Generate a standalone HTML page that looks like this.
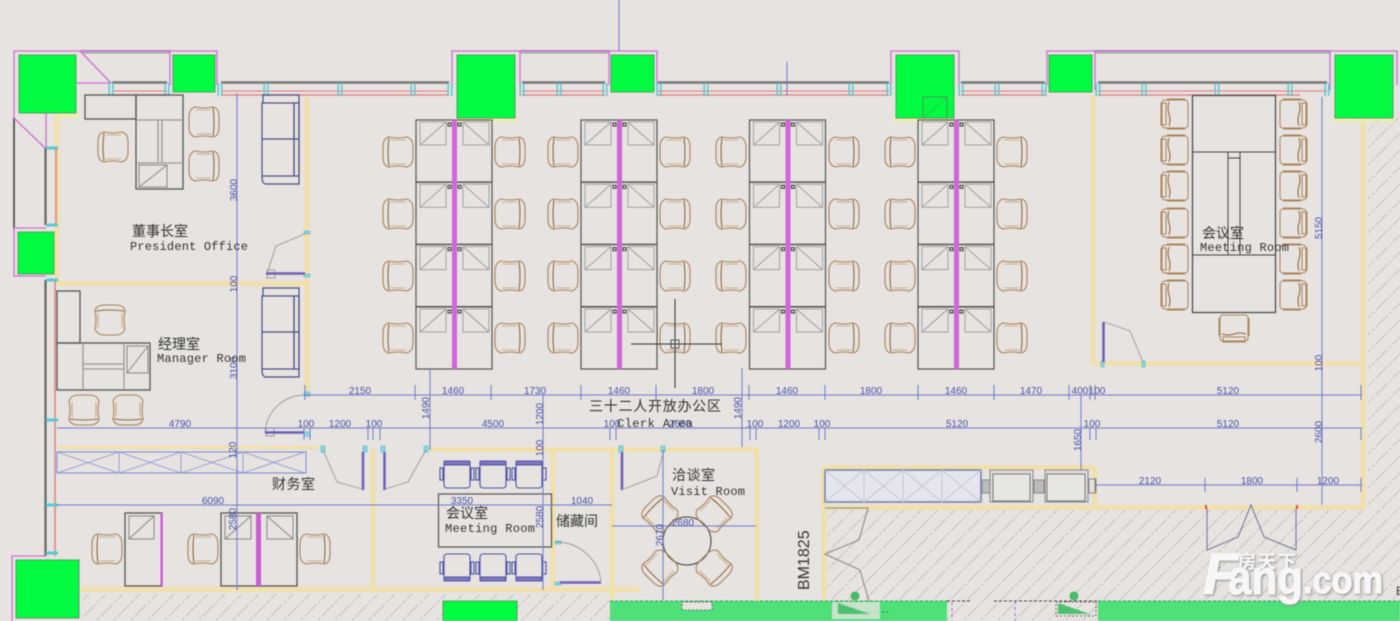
<!DOCTYPE html>
<html><head><meta charset="utf-8"><style>
html,body{margin:0;padding:0;background:#e6e3e0;width:1400px;height:621px;overflow:hidden}
svg{display:block;filter:blur(.4px)}
.d{font:10px "Liberation Sans",sans-serif;fill:#4b52a6;text-anchor:middle}
.l{font:12px "Liberation Mono",monospace;fill:#333}
.c{font:13px "Liberation Sans","Noto Sans CJK SC",sans-serif;fill:#333}
.w{fill:none;stroke:#f2e0a9;stroke-width:4.5}
.t{fill:none;stroke:#f2e0a9;stroke-width:3}
.dm{fill:none;stroke:#7079cc;stroke-width:1}
.k{fill:none;stroke:#555;stroke-width:1.3}
.g{fill:#00fb40;stroke:#55a060;stroke-width:1}
.m{fill:none;stroke:#cf6fd2;stroke-width:1.3}
</style></head><body>
<svg width="1400" height="621" viewBox="0 0 1400 621" xmlns="http://www.w3.org/2000/svg">
<defs>
<pattern id="h" width="17" height="17" patternUnits="userSpaceOnUse" patternTransform="translate(3 0)">
<path d="M0 17L17 0" stroke="#bdb9b3" stroke-width=".8" stroke-dasharray="11 2 3 2"/>
</pattern>
<g id="ch"><g fill="none" stroke="#a98359" stroke-width="1.1">
<path d="M-9-15Q-15-14-15-5V5Q-15 14-9 15Q0 13 9 15Q15 13 15 5V-5Q15-13 9-15Q0-13-9-15Z"/>
<path d="M-9-14Q-11 0-9 14" stroke="#8e6a42"/>
<path d="M-7-12H8M-7 12H8" stroke="#cdae8c"/>
</g></g>
<g id="mc"><g fill="none" stroke="#a98359" stroke-width="1">
<rect x="-13" y="-14" width="26" height="28" rx="3"/><rect x="-14" y="-11" width="5" height="22"/>
<path d="M-6-12Q-8-6-6 0T-6 12" stroke="#8e5f30"/><path d="M-8-15H10M-8 15H10"/>
</g></g>
<g id="bc"><g fill="none" stroke="#4c4fa5" stroke-width="1.1">
<rect x="-13" y="-12" width="26" height="25" rx="3"/><rect x="-13" y="-14" width="26" height="4" fill="#7f78c0" rx="1"/>
<rect x="-17" y="-7" width="3" height="12"/><rect x="14" y="-7" width="3" height="12"/>
</g></g>
<g id="mon"><rect width="26" height="23" fill="none" stroke="#9c9c9c" stroke-width=".9"/><path d="M0 23L26 0" stroke="#999" stroke-width=".9" fill="none"/></g>
<g id="mon2"><rect width="26" height="23" fill="none" stroke="#9c9c9c" stroke-width=".9"/><path d="M0 0L26 23" stroke="#999" stroke-width=".9" fill="none"/></g>
<g id="row"><rect width="76" height="62" fill="none" stroke="#555" stroke-width="1.2"/>
<use href="#mon" x="4" y="2"/><use href="#mon2" x="47" y="2"/>
<rect x="32" y="3" width="3" height="3" fill="none" stroke="#333"/><rect x="42" y="3" width="3" height="3" fill="none" stroke="#333"/></g>
<g id="block"><use href="#row"/><use href="#row" y="62.300"/><use href="#row" y="124.600"/><use href="#row" y="187"/>
<rect x="36" width="5" height="249" fill="#d265d8"/></g>
<g id="sofa"><g fill="none" stroke="#4b4b86" stroke-width="1.2">
<rect x="0" y="8" width="32" height="73"/><rect x="32" y="8" width="5" height="73"/><path d="M0 44H37"/>
<path d="M1 8V0H37V89H4Q0 89 0 81"/></g></g>
<g id="gl"><path d="M-1.800-6V7M1.800-6V7" stroke="#5cc8d0" stroke-width="1.500"/></g>
</defs>

<rect width="1400" height="621" fill="#e6e3e0"/>

<!-- hatch -->
<rect x="82" y="594" width="528" height="27" fill="url(#h)"/>
<rect x="825" y="510" width="575" height="111" fill="url(#h)"/>
<rect x="1368" y="118" width="32" height="390" fill="url(#h)"/>

<!-- green bottom -->
<rect x="610" y="601" width="337" height="20" fill="#4fe07a"/>
<rect x="1098" y="601" width="302" height="20" fill="#4fe07a"/>
<rect x="682" y="602" width="30" height="8" fill="#e6e3e0" stroke="#444" stroke-dasharray="2 2" stroke-width=".8"/>
<path d="M947 601H972M994 601H1098" stroke="#444" stroke-dasharray="3 2" stroke-width="1"/>
<path d="M610 601H947M1098 601H1400" stroke="#2e7a48" stroke-dasharray="3 2" stroke-width=".8"/>
<path d="M837 601V612H890" fill="none" stroke="#444" stroke-dasharray="2 2" stroke-width=".8"/>
<rect x="832" y="602" width="48" height="17" fill="#e6e3e0" opacity=".8"/>
<path d="M838 603L870 614H838Z" fill="#4fc070"/><path d="M1058 603L1090 614H1058Z" fill="#4fc070"/>
<rect x="1056" y="602" width="40" height="14" fill="none" stroke="#444" stroke-dasharray="2 2" stroke-width=".8"/>
<circle cx="855" cy="596" r="4.500" fill="#49b96a"/><circle cx="1074" cy="596" r="4.500" fill="#49b96a"/>
<path d="M952 602V621M1015 601V621" stroke="#b060c0" stroke-dasharray="3 3"/>

<!-- walls -->
<g class="w">
<path d="M307 97V395"/><path d="M57 115V283"/><path d="M57 283.500H310"/>
<path d="M373 449V590"/><path d="M80 589.500H640"/>
<path d="M430 449.500H757"/>
<path d="M553 450V590"/><path d="M612 450V600"/><path d="M757 448V601"/>
<path d="M1093 95V365"/><path d="M1093 363.500H1362"/><path d="M1363 118V508"/>
<path d="M823 507.500H1365"/><path d="M824 510V600"/><path d="M823 468V506"/><path d="M1095 468V505"/><path d="M823 467.500H1095"/>
</g>
<path class="t" d="M57 447.500H320"/>
<path d="M58 113H80V118H58ZM454 118H518V122H454ZM893 118H957V122H893ZM1332 118H1395V122H1332ZM14 618H80" fill="#eef0a0" opacity=".7"/>

<!-- window bands -->
<g fill="none">
<path d="M112 82.500H167M221 82.500H449M522 82.500H605M658 82.500H889M961 82.500H1045M1098 82.500H1327" stroke="#777" stroke-width="2.500"/>
<path d="M113 91H167M221 91H449M522 91H605M658 91H889M961 91H1045M1098 91H1327" stroke="#e27878"/>
<path d="M113 95H167M221 95H449M522 95H605M658 95H889M961 95H1045M1098 95H1300" stroke="#e27878" stroke-width="1.300"/>
<path d="M81 51H170M520 51H609M1095 51H1330" stroke="#444" stroke-width="1.600"/>
<path d="M81 53H170M520 53H609M1095 53H1330" stroke="#999"/>
<path d="M14 118V228" stroke="#444" stroke-width="1.600"/>
<path d="M45.500 148V225M45.500 280V556" stroke="#666" stroke-width="2.200"/>
<path d="M56 148V225M55 280V556" stroke="#e27878" stroke-width="1.400"/>
</g>
<g class="m">
<path d="M14 118V51H217V85"/><path d="M14 228V276H46"/><path d="M80 51L111 83M77 83H111M14 118L45 148M46 113V148M46 228H14"/>
<path d="M170 51V85"/>
<path d="M452 85V51H657V85M520 51V85M609 51V85"/>
<path d="M891 85V51H959V85"/>
<path d="M1047 85V51H1397V85M1095 51V90M1330 51V90"/>
<path d="M12 621V556H46"/>
</g>
<!-- window glass ticks -->
<g>
<use href="#gl" x="111" y="89"/><use href="#gl" x="167" y="89"/><use href="#gl" x="220" y="89"/><use href="#gl" x="266" y="89"/><use href="#gl" x="340" y="89"/><use href="#gl" x="413" y="89"/><use href="#gl" x="450" y="89"/>
<use href="#gl" x="522" y="89"/><use href="#gl" x="559" y="89"/><use href="#gl" x="605" y="89"/>
<use href="#gl" x="659" y="89"/><use href="#gl" x="706" y="89"/><use href="#gl" x="779" y="89"/><use href="#gl" x="851" y="89"/><use href="#gl" x="889" y="89"/>
<use href="#gl" x="961" y="89"/><use href="#gl" x="997" y="89"/><use href="#gl" x="1044" y="89"/>
<use href="#gl" x="1098" y="89"/><use href="#gl" x="1144" y="89"/><use href="#gl" x="1217" y="89"/><use href="#gl" x="1290" y="89"/><use href="#gl" x="1327" y="89"/>
</g>
<path d="M46 148H58M46 225H58M46 280H58M46 420H58M46 505H58M46 553H58" stroke="#5cc8d0" stroke-width="3"/>
<g fill="#8ad8e0" stroke="#50b8c8" stroke-width=".6">
<rect x="304" y="231" width="6" height="3"/><rect x="304" y="274" width="6" height="3"/>
<rect x="304" y="392" width="6" height="4"/><rect x="304" y="432" width="6" height="4"/>
<rect x="321" y="446" width="4" height="6"/><rect x="363" y="446" width="4" height="6"/>
<rect x="381" y="446" width="4" height="6"/><rect x="424" y="446" width="4" height="6"/>
<rect x="619" y="446" width="4" height="6"/><rect x="661" y="446" width="4" height="6"/>
<rect x="555" y="541" width="6" height="3"/><rect x="555" y="582" width="6" height="3"/>
<rect x="1101" y="361" width="3" height="6"/><rect x="1142" y="361" width="3" height="6"/>
</g>

<!-- green columns -->
<rect class="g" x="19" y="55" width="57" height="58"/>
<rect class="g" x="173" y="55" width="42" height="37"/>
<rect class="g" x="457" y="55" width="58" height="63"/>
<rect class="g" x="611" y="55" width="43" height="37"/>
<rect class="g" x="896" y="55" width="58" height="63"/>
<rect class="g" x="1049" y="55" width="43" height="37"/>
<rect class="g" x="1335" y="55" width="58" height="63"/>
<rect class="g" x="18" y="232" width="36" height="42"/>
<rect class="g" x="16" y="560" width="63" height="58"/>
<rect class="g" x="443" y="601" width="74" height="20"/>
<g><rect x="923" y="97" width="24" height="21" fill="none" stroke="#4a9a58"/><path d="M923 118L947 97" stroke="#4a9a58" stroke-dasharray="2 2"/></g>

<!-- open office desks -->
<use href="#block" x="416" y="120"/><use href="#block" x="581" y="120"/><use href="#block" x="749.500" y="120"/><use href="#block" x="918" y="120"/>

<!-- chairs: open office -->
<use href="#ch" x="398" y="152"/><use href="#ch" x="398" y="214"/><use href="#ch" x="398" y="276"/><use href="#ch" x="398" y="338"/>
<use href="#ch" transform="translate(510 152) scale(-1 1)"/><use href="#ch" transform="translate(510 214) scale(-1 1)"/><use href="#ch" transform="translate(510 276) scale(-1 1)"/><use href="#ch" transform="translate(510 338) scale(-1 1)"/>
<use href="#ch" x="563" y="152"/><use href="#ch" x="563" y="214"/><use href="#ch" x="563" y="276"/><use href="#ch" x="563" y="338"/>
<use href="#ch" transform="translate(675 152) scale(-1 1)"/><use href="#ch" transform="translate(675 214) scale(-1 1)"/><use href="#ch" transform="translate(675 276) scale(-1 1)"/><use href="#ch" transform="translate(675 338) scale(-1 1)"/>
<use href="#ch" x="731" y="152"/><use href="#ch" x="731" y="214"/><use href="#ch" x="731" y="276"/><use href="#ch" x="731" y="338"/>
<use href="#ch" transform="translate(844 152) scale(-1 1)"/><use href="#ch" transform="translate(844 214) scale(-1 1)"/><use href="#ch" transform="translate(844 276) scale(-1 1)"/><use href="#ch" transform="translate(844 338) scale(-1 1)"/>
<use href="#ch" x="900" y="152"/><use href="#ch" x="900" y="214"/><use href="#ch" x="900" y="276"/><use href="#ch" x="900" y="338"/>
<use href="#ch" transform="translate(1012 152) scale(-1 1)"/><use href="#ch" transform="translate(1012 214) scale(-1 1)"/><use href="#ch" transform="translate(1012 276) scale(-1 1)"/><use href="#ch" transform="translate(1012 338) scale(-1 1)"/>

<!-- president room -->
<g class="k">
<rect x="85" y="95" width="51" height="24"/><rect x="136" y="95" width="47" height="94"/>
<path d="M136 120H183M136 163H183M158 121V162M162 121V162" stroke="#999"/>
</g>
<rect x="139" y="165" width="28" height="22" fill="none" stroke="#888"/><path d="M139 187L167 165" stroke="#888"/>
<use href="#ch" x="113" y="147"/>
<use href="#ch" transform="translate(204 122) scale(-1 1)"/><use href="#ch" transform="translate(204 166) scale(-1 1)"/>
<use href="#sofa" x="262" y="95"/><use href="#sofa" x="262" y="288"/>
<!-- manager room -->
<g class="k">
<rect x="57" y="343" width="93" height="47"/><rect x="57" y="291" width="23" height="52"/>
<path d="M83 344V389M124 344V389" stroke="#999"/><path d="M83 364H124M83 369H124" stroke="#999"/>
</g>
<rect x="127" y="346" width="21" height="27" fill="none" stroke="#888"/><path d="M127 373L148 346" stroke="#888"/>
<use href="#ch" transform="translate(110 320) rotate(90)"/>
<use href="#ch" transform="translate(84 410) rotate(-90)"/><use href="#ch" transform="translate(128 410) rotate(-90)"/>
<!-- cabinet -->
<rect x="57" y="452" width="249" height="21" fill="none" stroke="#7d88cf"/>
<path d="M57 452L119 473M57 473L119 452M119 452L181 473M119 473L181 452M181 452L243 473M181 473L243 452M243 452L305 473M243 473L305 452M119 452V473M181 452V473M243 452V473" stroke="#8d96d3" stroke-width=".9" fill="none"/>
<!-- finance desks -->
<g class="k"><rect x="125" y="513" width="37" height="73"/><rect x="221" y="513" width="76" height="73"/></g>
<rect x="160.500" y="513" width="2" height="73" fill="#d050d8"/><rect x="256" y="513" width="5" height="73" fill="#c85fd0"/>
<rect x="129" y="516" width="25" height="23" fill="none" stroke="#888"/><path d="M129 539L154 516" stroke="#888"/>
<rect x="225" y="516" width="26" height="23" fill="none" stroke="#888"/><path d="M225 539L251 516" stroke="#888"/>
<rect x="267" y="516" width="26" height="23" fill="none" stroke="#888"/><path d="M267 516L293 539" stroke="#888"/>
<use href="#ch" x="107" y="549"/><use href="#ch" x="203" y="549"/><use href="#ch" transform="translate(315 549) scale(-1 1)"/>

<!-- meeting room small -->
<rect x="438.500" y="494" width="113" height="53" fill="none" stroke="#555" stroke-width="1.200"/>
<use href="#bc" x="457" y="475"/><use href="#bc" x="493" y="475"/><use href="#bc" x="529" y="475"/>
<use href="#bc" transform="translate(457 567) scale(1 -1)"/><use href="#bc" transform="translate(493 567) scale(1 -1)"/><use href="#bc" transform="translate(529 567) scale(1 -1)"/>

<!-- visit -->
<circle cx="687" cy="541" r="24" fill="none" stroke="#555" stroke-width="1.200"/>
<use href="#ch" transform="translate(660 514) rotate(45)"/><use href="#ch" transform="translate(714 514) rotate(135)"/>
<use href="#ch" transform="translate(660 568) rotate(-45)"/><use href="#ch" transform="translate(714 568) rotate(-135)"/>

<!-- meeting room big -->
<rect x="1192.500" y="95.500" width="83" height="217" fill="none" stroke="#444" stroke-width="1.200"/>
<path d="M1193 152H1276M1193 255H1276M1228 152V255M1240 152V255M1228 158H1240" fill="none" stroke="#444"/>
<use href="#mc" x="1175" y="114"/><use href="#mc" x="1175" y="150"/><use href="#mc" x="1175" y="186"/><use href="#mc" x="1175" y="223"/><use href="#mc" x="1175" y="259"/><use href="#mc" x="1175" y="295"/>
<use href="#mc" transform="translate(1293 114) scale(-1 1)"/><use href="#mc" transform="translate(1293 150) scale(-1 1)"/><use href="#mc" transform="translate(1293 186) scale(-1 1)"/><use href="#mc" transform="translate(1293 223) scale(-1 1)"/><use href="#mc" transform="translate(1293 259) scale(-1 1)"/><use href="#mc" transform="translate(1293 295) scale(-1 1)"/>
<use href="#mc" transform="translate(1234 328) rotate(-90)"/>

<!-- kitchen -->
<rect x="825" y="470" width="156" height="32" fill="#e4e5ee" stroke="#7284ad" stroke-width="1.600"/>
<path d="M825 470L864 502M825 502L864 470M864 470L903 502M864 502L903 470M903 470L942 502M903 502L942 470M942 470L981 502M942 502L981 470M864 470V502M903 470V502M942 470V502" stroke="#c7c7cc" fill="none"/>
<rect x="990" y="470" width="43" height="32" fill="#dcdcdc" stroke="#888"/><rect x="993" y="474" width="37" height="27" fill="#e7e6e3" stroke="#777"/>
<rect x="1045" y="470" width="43" height="32" fill="#dcdcdc" stroke="#888"/><rect x="1047" y="474" width="38" height="27" fill="#e7e6e3" stroke="#777"/>
<rect x="982" y="480" width="8" height="13" fill="#bbb" stroke="#888"/><rect x="1034" y="480" width="10" height="13" fill="#bbb" stroke="#888"/><rect x="1089" y="479" width="7" height="14" fill="none" stroke="#888"/>

<!-- doors -->
<g fill="none" stroke="#9a9a9a" stroke-width=".9">
<path d="M307 233L276 246L267 273"/>
<path d="M304 395A40 40 0 0 0 265 432"/>
<path d="M323 450L337 482L362 489"/><path d="M426 450L408 482L385 489"/>
<path d="M664 450L657 476L624 489"/>
<path d="M556 542A45 45 0 0 1 601 581"/>
<path d="M1104 322L1130 331L1143 362"/>
<rect x="267" y="270" width="8" height="8"/><rect x="266" y="428" width="8" height="8"/>
</g>
<path d="M266 273.500H305M265 432.500H304" stroke="#6e5fb8" stroke-width="2.500"/>
<path d="M363 452V490M384.500 452V490M622 452V490" stroke="#6e5fb8" stroke-width="2.500"/>
<path d="M560 582.500H601" stroke="#6e5fb8" stroke-width="2.500"/>
<path d="M1103.500 322V362" stroke="#6e5fb8" stroke-width="2.500"/>
<!-- exterior doors -->
<g fill="none" stroke="#8b8b8b" stroke-width="1.100">
<path d="M825 508H868L859 540L825 554L860 570L869 601"/>
<path d="M1207 508V550L1238 537L1251 505L1264 537L1296 550V508" stroke="#7a7a98"/>
</g>
<path d="M1206 505V509M1297 505V509" stroke="#e05050" stroke-width="2"/>

<!-- dimension lines -->
<g class="dm">
<path d="M619 0V51M787 62V95"/>
<path d="M237 93V590"/><path d="M430 368V450"/><path d="M543 395V590"/><path d="M742 368V447"/><path d="M1081 395V470"/><path d="M1322 97V505"/><path d="M663 450V600"/>
<path d="M305 395H1362"/><path d="M57 428H1362"/><path d="M57 505H612"/><path d="M612 526H756"/><path d="M1095 485H1362"/>
<path d="M305 385V400M415 385V400M491 385V400M581 385V400M656 385V400M749 385V400M825 385V400M918 385V400M994 385V400M1069 385V400M1090 385V400M1095 385V400M1361 385V400"/>
<path d="M304 428V440M310 428V440M368 428V440M373 428V440M380 428V440M610 428V440M616 428V440M750 428V440M756 428V440M819 428V440M825 428V440M1090 428V440M1096 428V440M1361 428V440"/>
<path d="M1205 478V492M1297 478V492M1361 478V492M1095 478V492"/>
</g>
<g class="d">
<text x="360" y="394">2150</text><text x="453" y="394">1460</text><text x="535" y="394">1730</text><text x="619" y="394">1460</text><text x="703" y="394">1800</text><text x="787" y="394">1460</text><text x="871" y="394">1800</text><text x="956" y="394">1460</text><text x="1031" y="394">1470</text><text x="1080" y="394">400</text><text x="1097" y="394">100</text><text x="1228" y="394">5120</text>
<text x="180" y="427">4790</text><text x="306" y="427">100</text><text x="340" y="427">1200</text><text x="374" y="427">100</text><text x="493" y="427">4500</text><text x="612" y="427">100</text><text x="680" y="427">2680</text><text x="755" y="427">100</text><text x="789" y="427">1200</text><text x="822" y="427">100</text><text x="957" y="427">5120</text><text x="1092" y="427">100</text><text x="1228" y="427">5120</text>
<text x="213" y="504">6090</text><text x="462" y="504">3350</text><text x="582" y="504">1040</text><text x="683" y="526">2680</text>
<text x="1150" y="484">2120</text><text x="1252" y="484">1800</text><text x="1328" y="484">1200</text>
<text transform="translate(237 190) rotate(-90)">3600</text>
<text transform="translate(237 284) rotate(-90)">100</text>
<text transform="translate(237 368) rotate(-90)">3100</text>
<text transform="translate(236 450) rotate(-90)">120</text>
<text transform="translate(236 519) rotate(-90)">2580</text>
<text transform="translate(429 408) rotate(-90)">1490</text>
<text transform="translate(543 414) rotate(-90)">1200</text>
<text transform="translate(543 448) rotate(-90)">100</text>
<text transform="translate(543 517) rotate(-90)">2580</text>
<text transform="translate(741 408) rotate(-90)">1490</text>
<text transform="translate(1081 440) rotate(-90)">1650</text>
<text transform="translate(1322 228) rotate(-90)">5150</text>
<text transform="translate(1322 363) rotate(-90)">100</text>
<text transform="translate(1322 432) rotate(-90)">2600</text>
<text transform="translate(663 535) rotate(-90)">2670</text>
</g>

<!-- labels -->
<g class="c">
<text x="132" y="236" textLength="56" lengthAdjust="spacing" font-size="14">董事长室</text>
<text x="158" y="349" textLength="42" lengthAdjust="spacing" font-size="14">经理室</text>
<text x="272" y="489" textLength="43" lengthAdjust="spacing" font-size="14">财务室</text>
<text x="446" y="518" textLength="42" lengthAdjust="spacing" font-size="14">会议室</text>
<text x="556" y="526" textLength="42" lengthAdjust="spacing" font-size="14">储藏间</text>
<text x="672" y="480" textLength="43" lengthAdjust="spacing" font-size="14">洽谈室</text>
<text x="1202" y="238" textLength="42" lengthAdjust="spacing" font-size="14">会议室</text>
<text x="589" y="411" textLength="132" lengthAdjust="spacing" font-size="14">三十二人开放办公区</text>
</g>
<g class="l">
<text x="130" y="250" textLength="118">President Office</text>
<text x="157" y="362" textLength="89">Manager Room</text>
<text x="445" y="532" textLength="90">Meeting Room</text>
<text x="671" y="495" textLength="74">Visit Room</text>
<text x="1200" y="251" textLength="89">Meeting Room</text>
<text x="617" y="427" textLength="76">Clerk Area</text>
</g>
<text transform="translate(809 590) rotate(-90)" font-family="Liberation Sans" font-size="16" fill="#333">BM1825</text>
<text x="1396" y="595" font-family="Liberation Sans" font-size="12" fill="#333">B</text>

<!-- cursor -->
<path d="M675 299V388M631 344H722" stroke="#333" stroke-width="1" fill="none"/>
<rect x="671" y="340" width="8" height="8" fill="none" stroke="#555"/>

<!-- watermark -->
<g fill="#f7f7f7" stroke="#f7f7f7" stroke-width="1.200" font-family="'Liberation Sans',sans-serif" font-weight="bold" style="filter:drop-shadow(1px 1px 1px #8f8d8a)">
<text x="1203" y="594" font-size="58" font-style="italic">F</text>
<text x="1228" y="594" font-size="48" textLength="75" lengthAdjust="spacingAndGlyphs">ang</text>
<text x="1303" y="593" font-size="38" textLength="80" lengthAdjust="spacingAndGlyphs">.com</text>
<text x="1238" y="568" font-size="18" stroke-width=".3" font-family="'Liberation Sans','Noto Sans CJK SC',sans-serif" letter-spacing="2">房天下</text>
</g>
</svg>
</body></html>
